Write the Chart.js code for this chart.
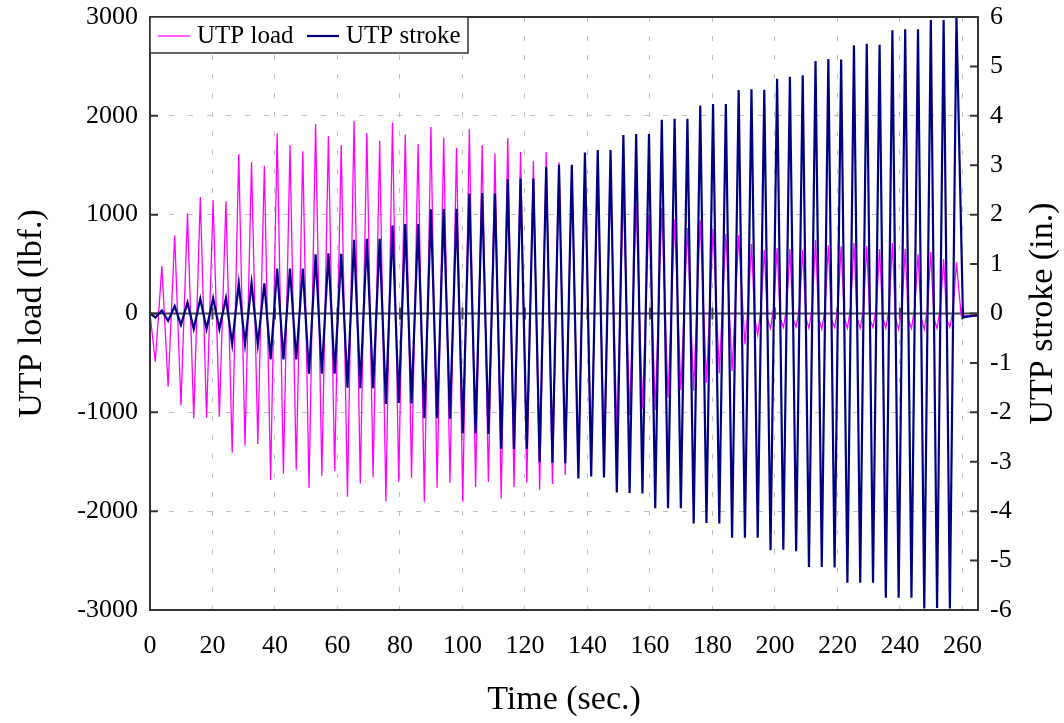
<!DOCTYPE html>
<html>
<head>
<meta charset="utf-8">
<script src="https://cdn.jsdelivr.net/npm/chart.js@4/dist/chart.umd.min.js"></script>
<style>
  body { margin: 0; background: #fff; }
</style>
</head>
<body>
<canvas id="utpChart" width="1064" height="723"></canvas>
<script>
// one point per half-cycle: trough then peak (times in sec.)
const troughTimes = [1.7, 5.8, 9.9, 14.0, 18.1, 22.2, 26.3, 30.4, 34.5, 38.6, 42.7, 46.8, 50.9, 55.0, 59.1, 63.2,
    67.3, 71.4, 75.5, 79.6, 83.7, 87.8, 91.9, 96.0, 100.1, 104.2, 108.3, 112.4, 116.5, 120.6, 124.7, 128.8,
    132.9, 137.1, 141.2, 145.3, 149.4, 153.5, 157.6, 161.7, 165.8, 169.9, 174.0, 178.1, 182.2, 186.3, 190.4,
    194.5, 198.6, 202.7, 206.8, 210.9, 215.0, 219.1, 223.2, 227.3, 231.4, 235.5, 239.6, 243.7, 247.8, 251.9, 256.0];
const peakTimes = [3.8, 7.9, 12.0, 16.1, 20.2, 24.3, 28.4, 32.5, 36.6, 40.7, 44.8, 48.9, 53.0, 57.1, 61.2, 65.3,
    69.4, 73.5, 77.6, 81.7, 85.8, 89.9, 94.0, 98.1, 102.2, 106.3, 110.4, 114.5, 118.6, 122.7, 126.8, 130.9,
    135.0, 139.2, 143.3, 147.4, 151.5, 155.6, 159.7, 163.8, 167.9, 172.0, 176.1, 180.2, 184.3, 188.4, 192.5,
    196.6, 200.7, 204.8, 208.9, 213.0, 217.1, 221.2, 225.3, 229.4, 233.5, 237.6, 241.7, 245.8, 249.9, 254.0, 258.1];

// UTP stroke (in.)
const strokeTroughs = [-0.08, -0.15, -0.23, -0.31, -0.31, -0.31, -0.62, -0.62, -0.62, -0.93, -0.93, -0.93,
    -1.22, -1.22, -1.22, -1.50, -1.51, -1.51, -1.83, -1.81, -1.82, -2.12, -2.12, -2.13, -2.43, -2.43, -2.44,
    -2.74, -2.74, -2.74, -3.01, -3.02, -3.03, -3.34, -3.30, -3.32, -3.62, -3.63, -3.64, -3.94, -3.94, -3.94,
    -4.25, -4.24, -4.25, -4.54, -4.54, -4.54, -4.79, -4.78, -4.81, -5.13, -5.13, -5.14, -5.45, -5.45, -5.45,
    -5.75, -5.75, -5.75, -5.97, -5.96, -5.97];
const strokePeaks = [0.06, 0.15, 0.22, 0.30, 0.31, 0.31, 0.61, 0.61, 0.61, 0.91, 0.91, 0.91, 1.20, 1.22, 1.21,
    1.49, 1.51, 1.51, 1.78, 1.81, 1.81, 2.11, 2.12, 2.12, 2.43, 2.44, 2.43, 2.72, 2.73, 2.73, 2.97, 3.01, 3.01,
    3.26, 3.31, 3.31, 3.61, 3.63, 3.63, 3.92, 3.94, 3.94, 4.21, 4.24, 4.24, 4.52, 4.54, 4.53, 4.75, 4.79, 4.82,
    5.11, 5.15, 5.14, 5.43, 5.46, 5.44, 5.73, 5.75, 5.75, 5.94, 5.94, 6.00];
const strokeTailTimes = [260.2, 265];
const strokeTail = [-0.08, -0.03];

// UTP load (lbf.)
const loadTroughs = [-488, -741, -929, -1061, -1055, -1044, -1409, -1338, -1321, -1685, -1621, -1581,
    -1766, -1641, -1594, -1854, -1719, -1658, -1901, -1702, -1662, -1905, -1763, -1712, -1905, -1756, -1705,
    -1874, -1759, -1712, -1783, -1726, -1635, -1550, -1450, -1350, -1200, -1027, -967, -977, -852, -774,
    -781, -700, -605, -582, -312, -218, -150, -140, -135, -150, -160, -140, -150, -150, -140, -150, -160,
    -150, -160, -150, -140];
const loadPeaks = [481, 788, 1014, 1179, 1149, 1135, 1614, 1533, 1496, 1820, 1705, 1641, 1918, 1797, 1706,
    1949, 1827, 1749, 1932, 1810, 1716, 1888, 1780, 1678, 1867, 1706, 1618, 1776, 1635, 1544, 1635, 1530,
    1480, 1420, 1380, 1330, 1223, 1098, 997, 1068, 953, 865, 943, 855, 805, 791, 703, 643, 663, 653, 643,
    744, 690, 680, 714, 683, 653, 714, 653, 599, 622, 551, 518];
// from cycle 46 on the load sits near zero between narrow spikes
const firstLateCycle = 46;
const loadRiseLate = [80, 60, 70, 50, 60, 70, 50, 60, 60, 50, 70, 60, 50, 60, 50, 60, 50];
const loadFallLate = [-40, -60, -50, -60, -40, -50, -60, -40, -50, -60, -40, -50, -60, -40, -50, -60];
const loadTailTimes = [259.6, 265];
const loadTail = [-20, -30];

function buildSeries(troughs, peaks, rise, fall, tailT, tailV) {
    const pts = [{x: 0, y: 0}];
    for (let k = 0; k < peakTimes.length; k++) {
        const j = k - firstLateCycle;
        pts.push({x: troughTimes[k], y: troughs[k]});
        if (rise && j >= 0) pts.push({x: (troughTimes[k] + peakTimes[k]) / 2, y: rise[j]});
        pts.push({x: peakTimes[k], y: peaks[k]});
        if (fall && j >= 0 && j < fall.length) pts.push({x: (peakTimes[k] + troughTimes[k + 1]) / 2, y: fall[j]});
    }
    tailT.forEach((t, i) => pts.push({x: t, y: tailV[i]}));
    return pts;
}

const serif = 'Liberation Serif';
const axisDark = '#333333';

// vertical axes: no extra room for half labels, the plot starts right under the top padding
function fixVertical(width) {
    return s => {
        s.width = width;
        s.paddingTop = 0;
        s.paddingBottom = 0;
    };
}

const framePlugin = {
    id: 'frame',
    beforeDatasetsDraw(chart) {
        const {ctx, chartArea: a, scales: {x, y}} = chart;
        const y0 = y.getPixelForValue(0);
        ctx.save();
        ctx.strokeStyle = '#444444';
        ctx.lineWidth = 2;
        ctx.beginPath();
        ctx.moveTo(a.left, y0);
        ctx.lineTo(a.right, y0);
        x.ticks.forEach(t => {
            if (t.value === 0) return;
            const px = x.getPixelForValue(t.value);
            ctx.moveTo(px, y0 - 6);
            ctx.lineTo(px, y0 + 6);
        });
        ctx.stroke();
        ctx.restore();
    },
    afterDraw(chart) {
        const {ctx, chartArea: a, scales: {y, y2}} = chart;
        ctx.save();
        // plot frame and inward ticks
        ctx.strokeStyle = axisDark;
        ctx.lineWidth = 2;
        ctx.strokeRect(a.left, a.top, a.right - a.left, a.bottom - a.top);
        ctx.beginPath();
        y.ticks.forEach(t => {
            const py = y.getPixelForValue(t.value);
            ctx.moveTo(a.left, py);
            ctx.lineTo(a.left + 8, py);
        });
        y2.ticks.forEach(t => {
            const py = y2.getPixelForValue(t.value);
            ctx.moveTo(a.right, py);
            ctx.lineTo(a.right - 8, py);
        });
        ctx.stroke();

        // legend box
        const ds = chart.data.datasets;
        ctx.fillStyle = '#ffffff';
        ctx.fillRect(a.left, a.top, 318, 36);
        ctx.lineWidth = 1.5;
        ctx.strokeRect(a.left, a.top, 318, 36);
        ctx.font = '25px ' + serif;
        ctx.textBaseline = 'middle';
        ctx.fillStyle = '#000000';
        const ly = a.top + 19;
        [[ds[0], a.left + 8], [ds[1], a.left + 157]].forEach(([d, lx]) => {
            ctx.strokeStyle = d.borderColor;
            ctx.lineWidth = d.borderWidth;
            ctx.beginPath();
            ctx.moveTo(lx, ly);
            ctx.lineTo(lx + 32, ly);
            ctx.stroke();
            ctx.fillText(d.label, lx + 39, ly);
        });

        // right axis title, reading bottom to top
        ctx.translate(1043, (a.top + a.bottom) / 2);
        ctx.rotate(-Math.PI / 2);
        ctx.font = '34px ' + serif;
        ctx.textAlign = 'center';
        ctx.fillText('UTP stroke (in.)', 0, 0);
        ctx.restore();
    }
};

new Chart(document.getElementById('utpChart'), {
    type: 'line',
    data: {
        datasets: [
            {
                label: 'UTP load',
                data: buildSeries(loadTroughs, loadPeaks, loadRiseLate, loadFallLate, loadTailTimes, loadTail),
                borderColor: '#ff00ff',
                borderWidth: 1.3,
                yAxisID: 'y',
                order: 2,
            },
            {
                label: 'UTP stroke',
                data: buildSeries(strokeTroughs, strokePeaks, null, null, strokeTailTimes, strokeTail),
                borderColor: '#000080',
                borderWidth: 2.2,
                yAxisID: 'y2',
                order: 1,
            },
        ],
    },
    options: {
        responsive: false,
        animation: false,
        devicePixelRatio: 1,
        elements: {
            point: { radius: 0 },
            line: { tension: 0, borderJoinStyle: 'miter' },
        },
        layout: { padding: { top: 17, left: 0, right: 0, bottom: 0 } },
        plugins: {
            legend: { display: false },
            tooltip: { enabled: false },
        },
        scales: {
            x: {
                type: 'linear',
                min: 0,
                max: 265,
                afterFit: s => { s.height = 113; s.paddingLeft = 0; s.paddingRight = 0; },
                ticks: {
                    stepSize: 20,
                    includeBounds: false,
                    padding: 21,
                    color: '#000',
                    font: { family: serif, size: 26 },
                    callback: v => String(v),
                },
                grid: {
                    drawTicks: false,
                    color: c => (c.tick && c.tick.value === 0 ? 'rgba(0,0,0,0)' : '#c0c0c0'),
                    lineWidth: 1,
                },
                border: { display: false, dash: [5, 14] },
                title: {
                    display: true,
                    text: 'Time (sec.)',
                    color: '#000',
                    font: { family: serif, size: 34 },
                    padding: { top: 0, bottom: 3 },
                },
            },
            y: {
                position: 'left',
                min: -3000,
                max: 3000,
                afterFit: fixVertical(150),
                ticks: {
                    stepSize: 1000,
                    padding: 12,
                    color: '#000',
                    font: { family: serif, size: 26 },
                    callback: v => String(v),
                },
                grid: {
                    drawTicks: false,
                    color: '#c0c0c0',
                    lineWidth: 1,
                },
                border: { display: false, dash: [5, 14] },
                title: {
                    display: true,
                    text: 'UTP load (lbf.)',
                    color: '#000',
                    font: { family: serif, size: 34 },
                    padding: { top: 12, bottom: 0 },
                },
            },
            y2: {
                position: 'right',
                min: -6,
                max: 6,
                afterFit: fixVertical(86),
                ticks: {
                    stepSize: 1,
                    padding: 12,
                    color: '#000',
                    font: { family: serif, size: 26 },
                    callback: v => String(v),
                },
                grid: { drawTicks: false, drawOnChartArea: false },
                border: { display: false },
            },
        },
    },
    plugins: [framePlugin],
});
</script>
</body>
</html>
